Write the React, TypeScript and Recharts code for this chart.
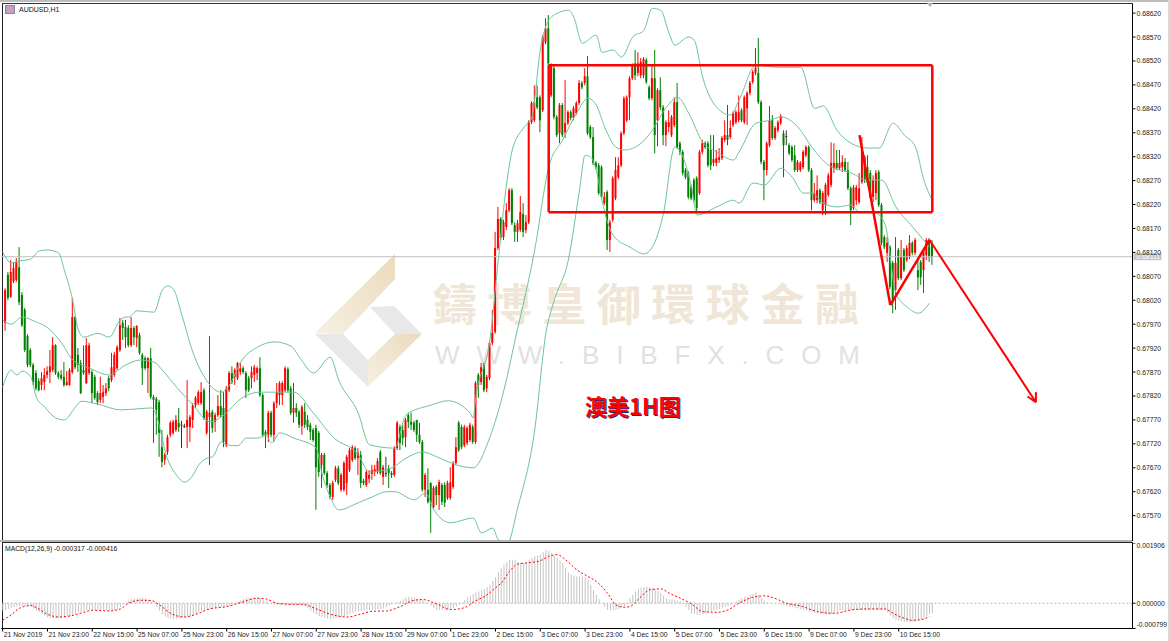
import React from "react";
import { ComposedChart, Bar, Line, XAxis, YAxis, ReferenceLine } from "recharts";

// All prices are in points (1 point = 0.00001). Candles start at bar 1.
const opens = [
67973,68073,68027,68060,68062,68089,68031,68000,67945,67916,
67885,67868,67851,67843,67849,67864,67870,67874,67926,67868,
67864,67860,67843,67843,67870,67985,67906,67889,67874,67847,
67868,67870,67860,67826,67812,67818,67826,67857,67853,67864,
67878,67916,67973,67964,67962,67926,67962,67941,67947,67906,
67899,67878,67899,67818,67814,67807,67713,67686,67703,67739,
67743,67749,67764,67760,67757,67755,67755,67770,67801,67805,
67805,67832,67743,67776,67787,67766,67780,67799,67795,67717,
67832,67868,67860,67857,67870,67878,67868,67857,67857,67864,
67868,67878,67822,67745,67739,67785,67739,67805,67822,67822,
67832,67876,67836,67785,67795,67787,67757,67787,67770,67760,
67749,67753,67743,67676,67697,67659,67634,67609,67645,67669,
67624,67624,67638,67665,67686,67711,67690,67697,67643,67634,
67647,67657,67661,67661,67703,67651,67659,67669,67659,67655,
67711,67755,67749,67734,67780,67766,67764,67770,67739,67724,
67624,67624,67638,67588,67630,67613,67634,67634,67607,67607,
67630,67680,67764,67755,67717,67722,67728,67755,67724,67864,
67849,67885,67836,67857,67931,67954,68129,68190,68152,68173,
68208,68250,68177,68163,68167,68200,68167,68183,68392,68396,
68444,68444,68417,68559,68588,68448,68505,68403,68369,68428,
68371,68390,68413,68401,68411,68432,68474,68474,68488,68382,
68361,68307,68302,68298,68223,68246,68146,68188,68233,68277,
68302,68369,68396,68444,68484,68515,68495,68490,68490,68522,
68465,68442,68484,68396,68459,68423,68365,68382,68365,68386,
68434,68348,68330,68292,68286,68256,68271,68275,68244,68330,
68348,68348,68334,68307,68307,68313,68317,68355,68365,68361,
68386,68392,68396,68417,68392,68421,68453,68476,68495,68495,
68434,68309,68292,68344,68396,68359,68375,68390,68369,68363,
68344,68340,68323,68292,68292,68298,68323,68340,68292,68229,
68229,68250,68208,68219,68240,68261,68296,68307,68296,68298,
68309,68292,68254,68213,68229,68225,68267,68319,68298,68286,
68236,68244,68288,68219,68152,68119,68131,68098,68041,68125,
68066,68125,68104,68110,68140,68119,68083,68100,68083,68114,
68146,68140];
const closes = [
68041,68025,68079,68087,68100,68016,67968,67916,67885,67885,
67849,67836,67832,67857,67864,67872,67882,67926,67868,67860,
67857,67843,67849,67874,67985,67880,67885,67826,67868,67926,
67926,67826,67816,67807,67826,67828,67836,67836,67880,67906,
67922,67968,67962,67943,67926,67962,67943,67966,67910,67878,
67878,67899,67818,67812,67791,67743,67682,67697,67734,67764,
67766,67770,67755,67760,67757,67770,67776,67801,67816,67828,
67828,67774,67787,67785,67753,67780,67799,67780,67724,67836,
67868,67849,67874,67889,67878,67870,67832,67832,67870,67880,
67878,67822,67739,67739,67785,67739,67805,67828,67847,67847,
67878,67832,67785,67795,67785,67760,67797,67760,67755,67745,
67728,67671,67661,67697,67659,67634,67609,67638,67669,67638,
67655,67680,67693,67707,67713,67690,67701,67638,67638,67661,
67655,67665,67667,67684,67659,67671,67659,67659,67655,67711,
67764,67722,67732,67770,67766,67760,67749,67739,67724,67624,
67655,67599,67597,67628,67613,67640,67599,67597,67638,67640,
67680,67713,67707,67713,67755,67753,67760,67724,67847,67843,
67880,67832,67860,67931,67952,68129,68190,68150,68183,68208,
68250,68181,68163,68181,68204,68163,68183,68392,68432,68434,
68423,68396,68570,68588,68515,68511,68403,68365,68428,68365,
68390,68413,68401,68421,68432,68474,68465,68488,68369,68361,
68307,68298,68244,68236,68236,68146,68183,68275,68292,68302,
68369,68442,68444,68484,68511,68490,68515,68518,68524,68476,
68442,68484,68365,68459,68423,68365,68392,68392,68403,68434,
68340,68330,68286,68277,68236,68233,68229,68213,68330,68348,
68340,68302,68302,68315,68317,68319,68359,68365,68355,68380,
68411,68413,68413,68396,68444,68453,68474,68497,68505,68434,
68309,68292,68348,68396,68359,68380,68392,68405,68344,68363,
68327,68313,68292,68309,68307,68330,68340,68292,68229,68244,
68250,68225,68244,68261,68281,68307,68307,68296,68307,68309,
68292,68254,68208,68256,68256,68254,68334,68271,68265,68236,
68271,68286,68219,68140,68131,68140,68048,68016,68098,68066,
68110,68083,68129,68140,68119,68146,68068,68068,68125,68146,
68110,68110];
const highs = [
68045,68079,68104,68100,68108,68131,68037,68004,67949,67920,
67889,67874,67857,67870,67878,67882,67916,67943,67928,67872,
67874,67891,67872,67878,68025,67987,67920,67895,67926,67941,
67931,67874,67864,67830,67860,67843,67847,67862,67910,67912,
67926,67983,67979,67979,67968,67985,67966,67968,67952,67910,
67903,67901,67920,67822,67818,67812,67749,67701,67739,67768,
67770,67780,67795,67768,67762,67853,67780,67805,67820,67832,
67849,67836,67791,67945,67791,67785,67822,67832,67828,67841,
67872,67882,67878,67891,67889,67882,67872,67862,67882,67885,
67882,67901,67826,67749,67789,67789,67809,67847,67851,67851,
67882,67880,67841,67847,67805,67791,67801,67805,67780,67764,
67753,67760,67747,67701,67701,67663,67638,67643,67674,67674,
67659,67684,67697,67711,67717,67715,67711,67705,67647,67665,
67665,67676,67676,67690,67707,67676,67693,67676,67663,67715,
67768,67760,67760,67774,67785,67785,67768,67770,67764,67728,
67659,67669,67640,67632,67634,67645,67638,67640,67643,67671,
67684,67734,67768,67760,67760,67757,67764,67760,67851,67868,
67889,67889,67864,67935,68000,68163,68215,68194,68188,68223,
68254,68254,68183,68188,68238,68223,68198,68396,68436,68469,
68469,68448,68574,68609,68616,68515,68509,68407,68432,68432,
68480,68417,68417,68426,68436,68480,68478,68505,68530,68386,
68382,68311,68307,68302,68246,68250,68188,68279,68319,68319,
68373,68446,68448,68488,68515,68543,68538,68526,68528,68526,
68469,68511,68543,68463,68486,68428,68396,68417,68407,68444,
68474,68352,68334,68296,68290,68261,68275,68279,68334,68355,
68352,68352,68365,68365,68334,68338,68363,68396,68428,68396,
68415,68417,68448,68421,68448,68457,68478,68501,68547,68568,
68438,68313,68352,68426,68407,68384,68396,68409,68375,68375,
68348,68344,68344,68313,68311,68334,68344,68344,68296,68265,
68281,68254,68248,68265,68286,68350,68348,68334,68334,68323,
68317,68309,68258,68261,68261,68286,68361,68323,68323,68292,
68281,68292,68292,68223,68156,68152,68135,68102,68152,68129,
68146,68129,68135,68156,68144,68150,68104,68104,68129,68150,
68150,68146];
const lows = [
67956,68020,68025,68056,68058,68010,67964,67912,67880,67880,
67843,67832,67830,67832,67832,67857,67847,67870,67864,67855,
67853,67839,67841,67841,67866,67876,67870,67824,67864,67845,
67864,67805,67812,67801,67805,67805,67820,67830,67849,67860,
67874,67912,67937,67920,67922,67922,67926,67922,67906,67843,
67874,67826,67814,67722,67739,67693,67671,67676,67697,67734,
67739,67745,67745,67711,67753,67711,67724,67753,67795,67801,
67801,67770,67739,67676,67743,67745,67776,67776,67713,67713,
67828,67845,67843,67853,67864,67866,67816,67828,67836,67849,
67853,67818,67734,67711,67724,67734,67724,67795,67801,67801,
67828,67828,67780,67764,67776,67753,67739,67753,67749,67728,
67724,67582,67651,67628,67655,67628,67605,67603,67640,67634,
67620,67620,67613,67661,67682,67686,67655,67628,67634,67630,
67638,67645,67653,67657,67655,67634,67651,67628,67649,67651,
67707,67707,67717,67713,67753,67749,67745,67724,67720,67620,
67609,67595,67534,67584,67592,67582,67592,67588,67603,67603,
67626,67676,67703,67709,67713,67717,67724,67720,67720,67816,
67843,67828,67828,67853,67926,67950,68125,68146,68146,68167,
68204,68177,68142,68142,68163,68152,68160,68179,68388,68392,
68419,68371,68413,68555,68511,68444,68398,68361,68348,68361,
68359,68386,68396,68396,68407,68428,68461,68469,68365,68357,
68302,68294,68240,68231,68219,68125,68121,68183,68229,68273,
68298,68365,68392,68396,68480,68480,68488,68484,68484,68472,
68438,68438,68327,68342,68417,68344,68342,68371,68361,68382,
68336,68323,68281,68273,68231,68229,68225,68204,68240,68325,
68336,68298,68292,68300,68300,68307,68313,68350,68344,68357,
68382,68388,68392,68392,68388,68386,68448,68472,68490,68430,
68304,68229,68281,68340,68355,68355,68371,68386,68277,68344,
68323,68309,68288,68288,68288,68294,68319,68288,68208,68225,
68223,68221,68198,68198,68236,68256,68286,68292,68292,68288,
68288,68250,68177,68208,68219,68221,68263,68265,68261,68231,
68225,68229,68215,68135,68127,68100,68043,67993,68000,68062,
68062,68079,68100,68106,68114,68114,68041,68052,68035,68104,
68100,68094];

const upperBars = [0,3,6,10,13,16,20,22,25,27,29,34,38,42,44,45,48,54,57,59,61,64,68,72,74,78,81,85,91,97,103,106,111,117,120,127,131,140,144,153,159,167,168,169,174,177,180,182,186,189,192,195,199,202,204,207,212,214,218,221,225,229,232,235,238,240,245,247,250,255,260,263,269,277,285,290,293,298,303,309,313,318,322,326,329,332];
const upperBand = [68121,68098,68102,68106,68123,68125,68119,68083,68020,67958,67943,67951,67943,67979,67985,67985,67998,67995,68041,68050,68043,67989,67910,67860,67843,67828,67843,67891,67922,67933,67924,67901,67868,67901,67853,67784,67718,67711,67780,67801,67810,67784,67774,67818,67937,68104,68265,68334,68380,68403,68543,68605,68622,68626,68611,68557,68574,68538,68543,68528,68570,68584,68630,68626,68578,68553,68570,68563,68486,68423,68407,68438,68511,68507,68507,68421,68426,68375,68348,68338,68338,68390,68365,68340,68271,68229];
const middleBars = [0,3,7,11,17,21,25,28,31,38,44,49,54,57,62,68,74,78,86,92,100,104,111,118,127,131,139,144,150,155,162,168,174,179,183,190,195,200,205,209,212,215,219,222,228,232,237,241,245,250,255,261,263,269,274,278,284,289,295,303,309,314,319,325,331];
const middleBand = [67979,67970,67985,67977,67958,67931,67895,67885,67878,67864,67885,67895,67891,67874,67839,67801,67766,67776,67818,67828,67828,67828,67784,67734,67697,67661,67670,67690,67703,67693,67676,67670,67734,67832,67937,68125,68298,68355,68411,68442,68428,68382,68340,68334,68348,68375,68423,68444,68411,68350,68330,68313,68330,68390,68396,68403,68382,68340,68302,68286,68271,68271,68215,68173,68131];
const lowerBars = [0,3,5,7,10,12,15,19,22,26,28,34,42,48,53,54,59,62,65,68,70,73,75,78,80,84,87,91,94,96,99,104,112,114,117,120,127,132,137,140,147,151,154,160,168,171,175,177,180,184,190,194,197,202,206,208,210,212,214,218,224,229,232,236,240,243,246,248,255,261,263,268,272,278,282,286,289,293,298,303,306,311,315,319,323,327,331];
const lowerBand = [67839,67874,67864,67872,67860,67818,67797,67774,67770,67797,67809,67803,67791,67793,67795,67791,67686,67655,67640,67655,67676,67690,67693,67724,67718,67716,67732,67732,67738,67722,67743,67732,67711,67659,67609,67582,67597,67609,67620,67620,67603,67617,67582,67555,67565,67534,67544,67519,67509,67588,67749,67951,68020,68104,68250,68323,68319,68292,68229,68156,68131,68117,68131,68202,68340,68319,68256,68198,68215,68229,68223,68265,68261,68296,68277,68244,68244,68223,68215,68219,68204,68204,68181,68035,68006,67993,68014];

// MACD in millionths; histogram for every bar from bar 0.
const macdHist = [
-230,-210,-180,-150,-120,-100,-90,-85,-80,-85,-100,
-170,-230,-290,-350,-400,-440,-470,-480,-480,-475,
-470,-450,-420,-400,-370,-330,-300,-270,-240,-220,
-215,-210,-210,-215,-220,-225,-225,-225,-225,-220,
-190,-120,-50,20,90,130,150,160,165,160,
150,110,60,-10,-120,-240,-340,-420,-470,-490,
-490,-490,-480,-470,-450,-430,-400,-370,-330,-290,
-250,-220,-200,-190,-170,-150,-130,-120,-110,-90,
-60,-30,0,50,90,130,160,170,175,180,
170,150,110,60,10,-20,-40,-50,-60,-60,
-60,-60,-60,-70,-70,-70,-80,-100,-160,-230,
-300,-350,-400,-440,-470,-490,-490,-480,-470,-450,
-430,-400,-370,-330,-300,-270,-250,-240,-230,-220,
-215,-210,-205,-200,-190,-170,-130,-90,-40,0,
30,80,130,170,190,190,180,160,130,100,
50,-10,-80,-150,-210,-220,-225,-220,-210,-200,
-150,-100,-40,30,100,190,240,290,340,370,
400,450,520,583,700,820,980,1110,1230,1300,
1378,1378,1378,1320,1272,1272,1300,1378,1430,1484,
1510,1537,1610,1696,1650,1590,1510,1431,1350,1272,
1120,980,901,870,848,848,848,810,760,583,
420,265,130,0,-110,-212,-215,-215,-212,-180,
-130,-90,30,159,270,371,450,490,510,530,
510,477,440,390,330,240,159,130,115,106,
90,50,-20,-110,-220,-318,-340,-365,-371,-350,
-318,-290,-265,-240,-212,-180,-150,-120,-90,-50,
10,53,100,140,180,212,250,300,350,260,
159,90,30,0,0,0,-20,-40,-60,-85,
-106,-125,-150,-170,-190,-212,-230,-250,-270,-300,
-318,-335,-350,-360,-371,-340,-300,-260,-230,-212,
-212,-215,-220,-220,-215,-212,-215,-220,-220,-215,
-212,-215,-215,-212,-212,-290,-390,-477,-520,-550,
-570,-583,-590,-590,-585,-570,-540,-510,-477,-410,
-340,-317];
const signalBars = [0,3,6,10,12,16,20,24,29,32,38,42,45,49,53,56,60,65,69,74,80,85,91,94,98,103,107,112,118,123,128,132,137,142,147,150,155,160,165,168,173,177,178,181,184,188,192,195,198,201,205,209,212,216,219,222,224,228,231,235,238,242,246,250,255,259,263,268,272,275,280,285,291,297,303,309,315,318,322,325,329,331];
const signalLine = [-530,-371,-159,-74,-138,-350,-435,-403,-286,-223,-244,-180,0,95,85,-53,-318,-435,-350,-180,-106,21,159,138,0,-32,-32,-180,-371,-435,-339,-254,-244,-106,95,117,-21,-202,-138,32,265,562,636,1007,1240,1283,1346,1484,1537,1378,1060,848,689,318,-53,-127,-106,212,424,456,318,159,-21,-265,-286,-212,0,191,233,180,0,-85,-265,-318,-212,-180,-180,-318,-477,-541,-498,-424];

const priceTicks = [68620,68570,68520,68470,68420,68370,68320,68270,68220,68170,68120,68070,68020,67970,67920,67870,67820,67770,67720,67670,67620,67570];
const macdTicks = [1906,0,-799];
const timeLabels = ["21 Nov 2019","21 Nov 23:00","22 Nov 15:00","25 Nov 07:00","25 Nov 23:00","26 Nov 15:00","27 Nov 07:00","27 Nov 23:00","28 Nov 15:00","29 Nov 07:00","1 Dec 23:00","2 Dec 15:00","3 Dec 07:00","3 Dec 23:00","4 Dec 15:00","5 Dec 07:00","5 Dec 23:00","6 Dec 15:00","9 Dec 07:00","9 Dec 23:00","10 Dec 15:00"];
const timeTicks = timeLabels.map((_, k) => k * 16);

const boxLeft = 195, boxRight = 332, boxTop = 68511, boxBottom = 68204;
const lastPrice = 68111;
const swing = [
  { x: 306, y: 68365 },
  { x: 317, y: 68010 },
  { x: 331, y: 68146 },
  { x: 369, y: 67807 },
];
const arrowBarbs = [
  { x: 366, y: 67819 },
  { x: 369, y: 67828 },
];

const SLOTS = 404;
const lookup = (idx: number[], vals: number[]) => {
  const m = new Map<number, number>();
  idx.forEach((k, j) => m.set(k, vals[j]));
  return m;
};
const uMap = lookup(upperBars, upperBand);
const mMap = lookup(middleBars, middleBand);
const lMap = lookup(lowerBars, lowerBand);
const sMap = lookup(signalBars, signalLine);

const rows = Array.from({ length: SLOTS }, (_, i) => {
  const j = i - 1;
  const has = j >= 0 && j < opens.length;
  return {
    i,
    open: has ? opens[j] : null,
    close: has ? closes[j] : null,
    range: has ? [lows[j], highs[j]] : null,
    upper: uMap.get(i) ?? null,
    middle: mMap.get(i) ?? null,
    lower: lMap.get(i) ?? null,
  };
});
const macdRows = Array.from({ length: SLOTS }, (_, i) => ({
  i,
  hist: i < macdHist.length ? macdHist[i] : null,
  signal: sMap.get(i) ?? null,
}));

const FONT = '"Liberation Sans", Arial, sans-serif';
const RED = "#ff0000";
const GREEN = "#008000";
const BAND = "#6cc49a";

const Candle = (props: any) => {
  const { x, y, width, height, payload } = props;
  if (!payload || payload.open == null) return <g />;
  const [lo, hi] = payload.range;
  const k = hi === lo ? 0 : height / (hi - lo);
  const top = Math.max(payload.open, payload.close);
  const bot = Math.min(payload.open, payload.close);
  const up = payload.close > payload.open;
  const doji = payload.close === payload.open;
  const color = doji ? "#333" : up ? RED : GREEN;
  const cx = x + width / 2;
  const bodyY = y + (hi - top) * k;
  const bodyH = Math.max((top - bot) * k, 1);
  return (
    <g>
      <line x1={cx} x2={cx} y1={y} y2={y + height} stroke={color} strokeWidth={1} />
      <rect x={cx - 1} y={bodyY} width={2} height={bodyH} fill={color} />
    </g>
  );
};

const PriceTick = (props: any) => {
  const { x, y, payload } = props;
  return (
    <g>
      <line x1={x} x2={x + 3} y1={y} y2={y} stroke="#000" />
      <text x={x + 4} y={y + 2.5} fontSize={6.8} fontFamily={FONT} fill="#222">
        {(payload.value / 100000).toFixed(5)}
      </text>
    </g>
  );
};
const MacdTick = (props: any) => {
  const { x, y, payload } = props;
  const v = payload.value;
  const dy = v === 1906 ? 5 : v === -799 ? -2 : 2.5;
  return (
    <g>
      <line x1={x} x2={x + 3} y1={y} y2={y} stroke="#000" />
      <text x={x + 4} y={y + dy} fontSize={6.8} fontFamily={FONT} fill="#222">
        {(v / 1000000).toFixed(6)}
      </text>
    </g>
  );
};
const TimeTick = (props: any) => {
  const { x, y, payload } = props;
  return (
    <g>
      <line x1={x} x2={x} y1={y} y2={y + 3} stroke="#000" />
      <text x={x + 1} y={y + 8.5} fontSize={6.8} fontFamily={FONT} fill="#222">
        {timeLabels[payload.value / 16]}
      </text>
    </g>
  );
};

const seg = (a: any, b: any, key: string, w = 2.5) => (
  <ReferenceLine key={key} segment={[a, b]} stroke={RED} strokeWidth={w} ifOverflow="visible" />
);

const LastLabel = (props: any) => {
  const { viewBox } = props;
  if (!viewBox) return null;
  const x = viewBox.x + viewBox.width;
  const y = viewBox.y;
  return (
    <g>
      <rect x={x + 1} y={y - 3.5} width={28} height={7} fill="#c4c4c4" />
      <text x={x + 4} y={y + 2.5} fontSize={6.8} fontFamily={FONT} fill="#fff">
        {(lastPrice / 100000).toFixed(5)}
      </text>
    </g>
  );
};

const Watermark = () => (
  <svg width={1170} height={641} style={{ position: "absolute", left: 0, top: 0 }}>
    <defs>
      <linearGradient id="tan" x1="0" y1="1" x2="1" y2="0">
        <stop offset="0" stopColor="#f6efe2" />
        <stop offset="1" stopColor="#eadbbd" />
      </linearGradient>
    </defs>
    <polygon points="395,254 395,279 343,334 315,333" fill="url(#tan)" />
    <polygon points="370,307 394,306 422,334 395,334" fill="#e8e8e8" />
    <polygon points="422,334 395,334 368,360 368,387" fill="url(#tan)" />
    <polygon points="315,334 343,334 368,360 368,387" fill="#e8e8e8" />
    <text x={433} y={321} fontSize={44} fontFamily='"Noto Sans CJK TC"' fontWeight={700} fill="#f0e6d8" textLength={426} lengthAdjust="spacing">
      鑄博皇御環球金融
    </text>
    <text x={435} y={364} fontSize={26} fontFamily={FONT} fill="#e1e1e1" textLength={425} lengthAdjust="spacing">
      WWW.BIBFX.COM
    </text>
  </svg>
);

export default function App() {
  return (
    <div style={{ position: "absolute", left: 0, top: 0, width: 1170, height: 641, background: "#fff", overflow: "hidden" }}>
      <Watermark />
      <div style={{ position: "absolute", left: 0, top: 0, width: 1170, height: 2, background: "#bdbdbd" }} />
      <div style={{ position: "absolute", left: 2, top: 3, width: 1131, height: 1, background: "#333" }} />
      <div style={{ position: "absolute", left: 1.5, top: 3, width: 1, height: 627, background: "#222" }} />
      <div style={{ position: "absolute", left: 0, top: 540, width: 1132, height: 2, background: "#b4b4b4" }} />
      <div style={{ position: "absolute", left: 2, top: 542, width: 1131, height: 1, background: "#222" }} />
      <div style={{ position: "absolute", left: 1168, top: 0, width: 2, height: 641, background: "#d8d8d8" }} />

      <div style={{ position: "absolute", left: 0, top: 0 }}>
        <ComposedChart width={1170} height={545} data={rows} margin={{ top: 4, right: 0, bottom: 4, left: 1.3 }} barCategoryGap={0}>
          <XAxis dataKey="i" type="category" hide />
          <YAxis
            orientation="right"
            type="number"
            width={37.5}
            domain={[67517, 68639]}
            allowDataOverflow
            ticks={priceTicks}
            interval={0}
            tick={<PriceTick />}
            tickLine={false}
            tickSize={0}
            tickMargin={0}
            axisLine={{ stroke: "#000" }}
          />
          <ReferenceLine y={lastPrice} stroke="#c0c0c0" strokeWidth={1} label={<LastLabel />} />
          <Bar dataKey="range" barSize={2} shape={<Candle />} isAnimationActive={false} />
          <Line dataKey="upper" type="monotone" connectNulls dot={false} stroke={BAND} strokeWidth={1} isAnimationActive={false} />
          <Line dataKey="middle" type="monotone" connectNulls dot={false} stroke={BAND} strokeWidth={1} isAnimationActive={false} />
          <Line dataKey="lower" type="monotone" connectNulls dot={false} stroke={BAND} strokeWidth={1} isAnimationActive={false} />
          {seg({ x: boxLeft, y: boxTop }, { x: boxRight, y: boxTop }, "t")}
          {seg({ x: boxRight, y: boxTop }, { x: boxRight, y: boxBottom }, "r")}
          {seg({ x: boxRight, y: boxBottom }, { x: boxLeft, y: boxBottom }, "b")}
          {seg({ x: boxLeft, y: boxBottom }, { x: boxLeft, y: boxTop }, "l")}
          {seg(swing[0], swing[1], "z1")}
          {seg(swing[1], swing[2], "z2")}
          {seg(swing[2], swing[3], "z3", 2)}
          {seg(arrowBarbs[0], swing[3], "a1", 2)}
          {seg(arrowBarbs[1], swing[3], "a2", 2)}
        </ComposedChart>
      </div>

      <div style={{ position: "absolute", left: 0, top: 543 }}>
        <ComposedChart width={1170} height={98} data={macdRows} margin={{ top: 0, right: 0, bottom: 0, left: 1.3 }} barCategoryGap={0}>
          <XAxis
            dataKey="i"
            type="category"
            ticks={timeTicks}
            interval={0}
            height={12.5}
            tick={<TimeTick />}
            tickLine={false}
            tickSize={0}
            tickMargin={0}
            axisLine={{ stroke: "#000" }}
          />
          <YAxis
            orientation="right"
            type="number"
            width={37.5}
            domain={[-799, 1906]}
            ticks={macdTicks}
            interval={0}
            tick={<MacdTick />}
            tickLine={false}
            tickSize={0}
            tickMargin={0}
            axisLine={{ stroke: "#000" }}
          />
          <ReferenceLine y={0} stroke="#b5b5b5" strokeDasharray="2 2" />
          <Bar dataKey="hist" barSize={1} fill="#c4c4c4" isAnimationActive={false} />
          <Line dataKey="signal" type="monotone" connectNulls dot={false} stroke={RED} strokeWidth={1} strokeDasharray="2 2" isAnimationActive={false} />
        </ComposedChart>
      </div>

      <div style={{ position: "absolute", left: 5, top: 5, width: 10, height: 9, background: "linear-gradient(90deg,#9aa6e6,#e8a0a0,#9aa6e6)", border: "1px solid #889", boxSizing: "border-box" }} />
      <div style={{ position: "absolute", left: 19, top: 6, font: `7px ${FONT}`, color: "#111", whiteSpace: "nowrap" }}>AUDUSD,H1</div>
      <div style={{ position: "absolute", left: 5, top: 545, font: `6.8px ${FONT}`, color: "#111", whiteSpace: "nowrap" }}>MACD(12,26,9) -0.000317 -0.000416</div>
      <div style={{ position: "absolute", left: 585, top: 389, font: `bold 22px "Noto Sans CJK SC"`, color: RED, textShadow: "1px 1px 0 #1a2a7a", whiteSpace: "nowrap" }}>澳美1H图</div>
      <svg width={10} height={6} style={{ position: "absolute", left: 925, top: 3 }}>
        <polygon points="2,0 8,0 5,4" fill="#b0b0b0" />
      </svg>
    </div>
  );
}
